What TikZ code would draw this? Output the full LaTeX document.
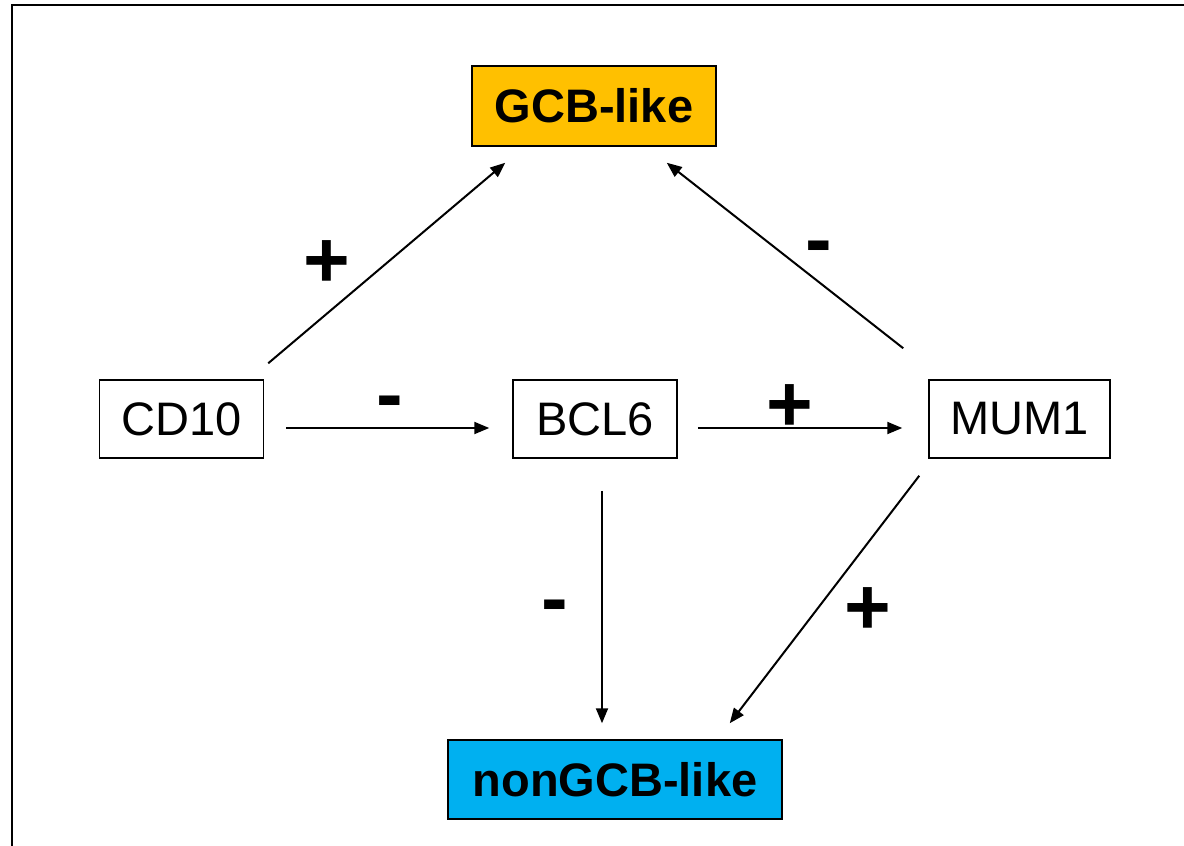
\documentclass[tikz,border=0pt]{standalone}
\usepackage{fontspec}
\setmainfont{Liberation Sans}
\usepackage{tikz}
\usetikzlibrary{arrows.meta,positioning}

\begin{document}
\begin{tikzpicture}[y=-1pt,x=1pt,
	gene/.style={draw,line width=1.5pt,inner sep=0pt,font=\fontsize{47}{50}\selectfont},
	kind/.style={draw,line width=1.5pt,inner sep=0pt,font=\fontsize{47}{50}\selectfont\bfseries},
	sign/.style={inner sep=0pt,font=\fontsize{80}{84}\selectfont\bfseries},
	link/.style={line width=2pt,-{Triangle[length=15pt,width=12pt]}}]
	\useasboundingbox (0,0) rectangle (1184,846);
	\draw [line width=2.5pt] (12,846) -- (12,5) -- (1184,5);

	\node [kind,fill={rgb,255:red,255;green,192;blue,0},minimum width=244,minimum height=80] (gcb) at (594,106) {GCB-like};
	\node [kind,fill={rgb,255:red,0;green,176;blue,240},minimum width=334,minimum height=79] (ngcb) at (615,779.5) {nonGCB-like};

	\node [gene,minimum width=164,minimum height=78] (cd10) at (181.5,419) {CD10};
	\node [gene,minimum width=164,minimum height=78] (bcl6) at (595,419) {BCL6};
	\node [gene,minimum width=181,minimum height=78] (mum1) at (1019.5,419) {MUM1};

	\draw [link] ([shift={(4,-16)}]cd10.north east) -- ([shift={(34,16)}]gcb.south west);
	\draw [link] ([shift={(-25,-31)}]mum1.north west) -- ([shift={(-50,16)}]gcb.south east);
	\draw [link] ([shift={(22,9)}]cd10.east) -- ([shift={(-23,9)}]bcl6.west);
	\draw [link] ([shift={(20,9)}]bcl6.east) -- ([shift={(-26,9)}]mum1.west);
	\draw [link] ([shift={(7,32)}]bcl6.south) -- ([shift={(-13,-16)}]ngcb.north);
	\draw [link] ([shift={(-9,17)}]mum1.south west) -- ([shift={(-53,-16)}]ngcb.north east);

	\node [sign] (s1) at (327,264) {+};
	\node [sign] (s2) at (819,254) {-};
	\node [sign] (s3) at (390,409) {-};
	\node [sign] (s4) at (790,408) {+};
	\node [sign] (s5) at (555,613) {-};
	\node [sign] (s6) at (868,611) {+};
\end{tikzpicture}
\end{document}
